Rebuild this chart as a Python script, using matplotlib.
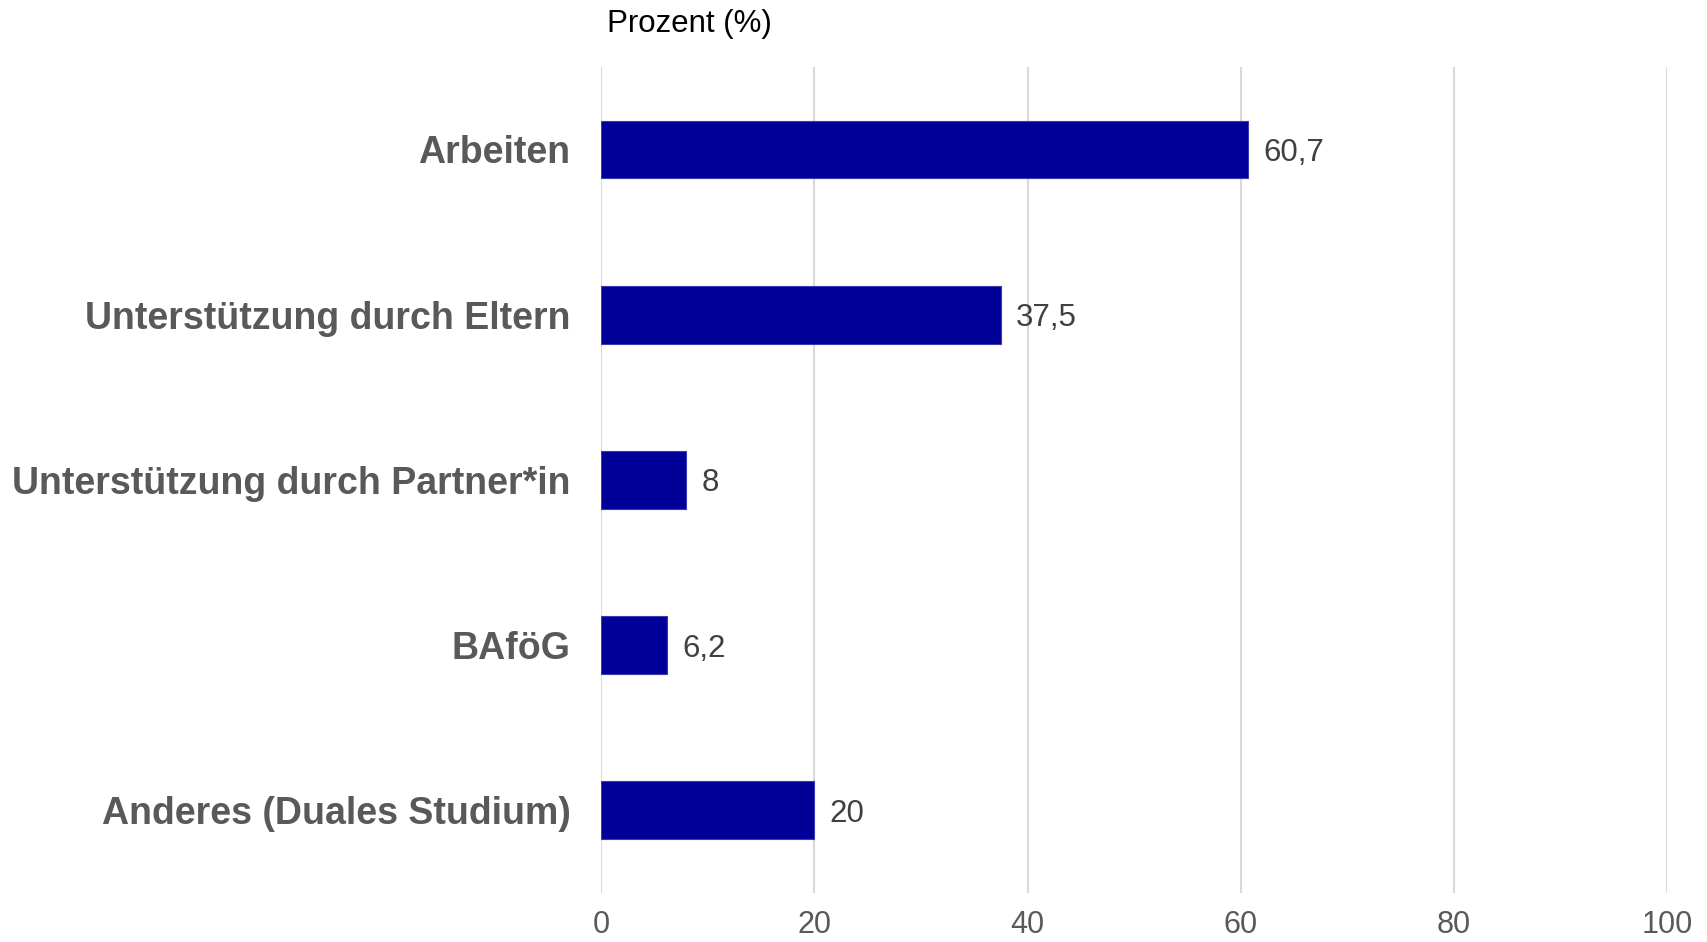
import numpy as np
import matplotlib.pyplot as plt

plt.rcParams['font.family'] = ['Liberation Sans', 'DejaVu Sans']

kategorien = ['Arbeiten', 'Unterstützung durch Eltern', 'Unterstützung durch Partner*in',
              'BAföG', 'Anderes (Duales Studium)']
werte = [60.7, 37.5, 8, 6.2, 20]
x_ticks = [0, 20, 40, 60, 80, 100]

fig = plt.figure(figsize=(17.08, 9.42), dpi=100)
ax = fig.add_axes([0.352, 0.052, 0.624, 0.877])

Y = np.arange(len(kategorien))
ax.barh(Y, werte, height=0.35, color='#000099', edgecolor='#3a3ab0', linewidth=0.8, zorder=3)

# Werte rechts neben den Balken
for y, w in zip(Y, werte):
    txt = '{:g}'.format(w).replace('.', ',')
    ax.text(w + 1.4, y, txt, ha='left', va='center_baseline', fontsize=22.5, color='#404040')

ax.set_ylim(len(kategorien) - 0.5, -0.5)
ax.set_xlim(0, 100)
ax.set_yticks(Y)
ax.set_yticklabels(kategorien, fontsize=27, fontweight='bold', color='#595959')
ax.set_xticks(x_ticks)
ax.set_xticklabels([str(t) for t in x_ticks], fontsize=22, color='#595959')
ax.tick_params(axis='both', length=0)
ax.tick_params(axis='y', pad=22)
ax.tick_params(axis='x', pad=12)

ax.grid(axis='x', color='#d9d9d9', linewidth=1.5, zorder=0)
for s in ax.spines.values():
    s.set_visible(False)

fig.text(607 / 1708, 1 - 24 / 942, 'Prozent (%)', ha='left', va='center', fontsize=22.5, color='black')

fig.savefig('out.png', dpi=100)
